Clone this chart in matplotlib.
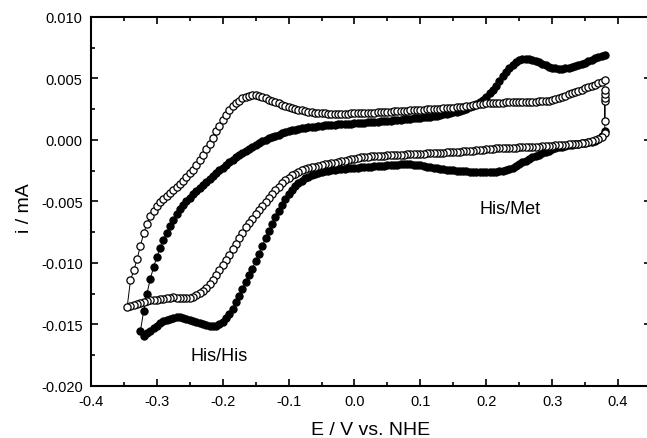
import matplotlib
matplotlib.use("Agg")
import matplotlib.pyplot as plt
from matplotlib.ticker import MultipleLocator, FormatStrFormatter

# Cyclic voltammograms, potential grid in mV (5 mV steps) and currents in uA
potential_mV = [
    -345, -340, -335, -330, -325, -320, -315, -310, -305, -300,
    -295, -290, -285, -280, -275, -270, -265, -260, -255, -250,
    -245, -240, -235, -230, -225, -220, -215, -210, -205, -200,
    -195, -190, -185, -180, -175, -170, -165, -160, -155, -150,
    -145, -140, -135, -130, -125, -120, -115, -110, -105, -100,
    -95, -90, -85, -80, -75, -70, -65, -60, -55, -50,
    -45, -40, -35, -30, -25, -20, -15, -10, -5, 0,
    5, 10, 15, 20, 25, 30, 35, 40, 45, 50,
    55, 60, 65, 70, 75, 80, 85, 90, 95, 100,
    105, 110, 115, 120, 125, 130, 135, 140, 145, 150,
    155, 160, 165, 170, 175, 180, 185, 190, 195, 200,
    205, 210, 215, 220, 225, 230, 235, 240, 245, 250,
    255, 260, 265, 270, 275, 280, 285, 290, 295, 300,
    305, 310, 315, 320, 325, 330, 335, 340, 345, 350,
    355, 360, 365, 370, 375, 380,
]

# open circles, lower branch (from -345 mV)
open_lower_uA = [
    -13.55, -13.50, -13.42, -13.36, -13.28, -13.20, -13.12, -13.05, -13.00, -12.97,
    -12.93, -12.90, -12.88, -12.85, -12.80, -12.82, -12.86, -12.88, -12.88, -12.85,
    -12.75, -12.62, -12.45, -12.25, -12.00, -11.70, -11.35, -10.95, -10.55, -10.15,
    -9.75, -9.35, -8.90, -8.45, -8.00, -7.55, -7.10, -6.75, -6.40, -6.05,
    -5.70, -5.35, -5.02, -4.70, -4.40, -4.10, -3.80, -3.52, -3.27, -3.05,
    -2.88, -2.74, -2.60, -2.48, -2.38, -2.30, -2.22, -2.16, -2.10, -2.04,
    -1.98, -1.93, -1.88, -1.84, -1.78, -1.72, -1.67, -1.62, -1.57, -1.52,
    -1.47, -1.42, -1.38, -1.35, -1.33, -1.31, -1.30, -1.29, -1.28, -1.26,
    -1.24, -1.22, -1.20, -1.19, -1.18, -1.16, -1.15, -1.13, -1.12, -1.11,
    -1.10, -1.08, -1.07, -1.06, -1.04, -1.03, -1.02, -1.00, -0.99, -0.98,
    -0.96, -0.95, -0.93, -0.92, -0.90, -0.87, -0.84, -0.81, -0.78, -0.75,
    -0.73, -0.70, -0.68, -0.67, -0.66, -0.65, -0.64, -0.63, -0.62, -0.61,
    -0.60, -0.59, -0.58, -0.57, -0.56, -0.54, -0.52, -0.50, -0.48, -0.46,
    -0.44, -0.42, -0.40, -0.38, -0.36, -0.34, -0.32, -0.30, -0.27, -0.23,
    -0.18, -0.12, -0.04, 0.08, 0.25, 0.60,
]

# open circles, upper branch (from -340 mV)
open_upper_uA = [
    -11.40, -10.60, -9.70, -8.60, -7.60, -6.80, -6.20, -5.75, -5.35,
    -5.05, -4.80, -4.55, -4.30, -4.10, -3.85, -3.60, -3.30, -3.00, -2.70,
    -2.40, -2.05, -1.65, -1.20, -0.75, -0.30, 0.20, 0.70, 1.15, 1.60,
    2.00, 2.40, 2.75, 3.00, 3.20, 3.40, 3.52, 3.60, 3.65, 3.62,
    3.55, 3.48, 3.38, 3.28, 3.18, 3.08, 2.98, 2.88, 2.78, 2.70,
    2.60, 2.52, 2.45, 2.40, 2.35, 2.30, 2.26, 2.22, 2.20, 2.18,
    2.16, 2.15, 2.14, 2.13, 2.13, 2.13, 2.14, 2.15, 2.16, 2.17,
    2.18, 2.19, 2.20, 2.21, 2.22, 2.23, 2.24, 2.26, 2.28, 2.30,
    2.31, 2.33, 2.34, 2.36, 2.37, 2.39, 2.40, 2.42, 2.43, 2.45,
    2.47, 2.48, 2.50, 2.52, 2.53, 2.55, 2.57, 2.58, 2.60, 2.62,
    2.65, 2.68, 2.72, 2.76, 2.80, 2.84, 2.88, 2.92, 2.95, 2.98,
    3.00, 3.01, 3.02, 3.03, 3.04, 3.05, 3.05, 3.06, 3.06, 3.07,
    3.08, 3.09, 3.10, 3.11, 3.12, 3.13, 3.15, 3.17, 3.20, 3.24,
    3.30, 3.40, 3.50, 3.60, 3.70, 3.80, 3.90, 4.00, 4.10, 4.20,
    4.30, 4.40, 4.50, 4.60, 4.72, 4.85,
]

# open circles recorded at the switching potential
open_switch_mV = [380, 380, 380, 380, 380]
open_switch_uA = [4.10, 3.75, 3.45, 3.15, 1.57]

# filled circles, lower branch (from -325 mV)
filled_lower_uA = [
    -15.55, -15.90, -15.70, -15.50, -15.30, -15.10,
    -14.90, -14.75, -14.62, -14.52, -14.45, -14.40, -14.40, -14.45, -14.52, -14.60,
    -14.70, -14.80, -14.90, -14.98, -15.05, -15.12, -15.15, -15.10, -14.98, -14.78,
    -14.50, -14.15, -13.72, -13.20, -12.65, -12.10, -11.55, -11.00, -10.45, -9.85,
    -9.25, -8.62, -8.00, -7.40, -6.85, -6.30, -5.75, -5.25, -4.80, -4.40,
    -4.05, -3.75, -3.50, -3.30, -3.12, -2.98, -2.86, -2.76, -2.67, -2.60,
    -2.54, -2.49, -2.45, -2.41, -2.38, -2.35, -2.32, -2.30, -2.28, -2.26,
    -2.24, -2.22, -2.20, -2.18, -2.16, -2.14, -2.12, -2.10, -2.08, -2.06,
    -2.04, -2.02, -2.00, -1.98, -1.97, -1.97, -1.98, -2.00, -2.03, -2.07,
    -2.12, -2.17, -2.22, -2.27, -2.31, -2.35, -2.38, -2.41, -2.44, -2.47,
    -2.50, -2.52, -2.54, -2.56, -2.57, -2.58, -2.59, -2.60, -2.60, -2.60,
    -2.60, -2.59, -2.57, -2.54, -2.50, -2.44, -2.35, -2.24, -2.10, -1.96,
    -1.82, -1.68, -1.55, -1.42, -1.30, -1.18, -1.07, -0.96, -0.86, -0.77,
    -0.68, -0.60, -0.53, -0.47, -0.42, -0.38, -0.34, -0.31, -0.28, -0.24,
    -0.20, -0.14, -0.05, 0.10, 0.35, 0.70,
]

# filled circles, upper branch (from -320 mV)
filled_upper_uA = [
    -13.90, -12.50, -11.30, -10.35, -9.50,
    -8.80, -8.15, -7.55, -7.00, -6.50, -6.05, -5.65, -5.30, -4.98, -4.68,
    -4.40, -4.15, -3.92, -3.68, -3.45, -3.20, -2.95, -2.70, -2.47, -2.25,
    -2.03, -1.82, -1.62, -1.42, -1.24, -1.06, -0.89, -0.73, -0.58, -0.44,
    -0.22, -0.10, 0.02, 0.13, 0.24, 0.34, 0.44, 0.54, 0.63, 0.72,
    0.79, 0.85, 0.90, 0.95, 0.99, 1.03, 1.06, 1.09, 1.12, 1.15,
    1.18, 1.20, 1.22, 1.24, 1.26, 1.28, 1.30, 1.32, 1.34, 1.36,
    1.38, 1.40, 1.42, 1.44, 1.46, 1.48, 1.50, 1.52, 1.54, 1.56,
    1.58, 1.61, 1.64, 1.66, 1.68, 1.70, 1.72, 1.75, 1.77, 1.80,
    1.83, 1.86, 1.90, 1.94, 1.98, 2.03, 2.08, 2.13, 2.18, 2.24,
    2.31, 2.38, 2.46, 2.55, 2.65, 2.76, 2.90, 3.06, 3.28, 3.53,
    3.80, 4.10, 4.43, 4.82, 5.22, 5.55, 5.82, 6.10, 6.35, 6.50,
    6.58, 6.60, 6.56, 6.50, 6.42, 6.32, 6.20, 6.08, 5.97, 5.88,
    5.82, 5.80, 5.81, 5.84, 5.89, 5.95, 6.02, 6.10, 6.20, 6.30,
    6.42, 6.54, 6.64, 6.74, 6.84, 6.94,
]

labels = ["His/His", "His/Met"]
label_pos = [(-0.206, -0.0175), (0.236, -0.0056)]

E = [v / 1000 for v in potential_mV]

# open trace: switch points, lower branch right->left, then upper branch left->right
open_x = [v / 1000 for v in open_switch_mV[::-1]] + E[::-1] + E[1:]
open_y = [v / 1000 for v in open_switch_uA[::-1]] + [v / 1000 for v in open_lower_uA[::-1]] \
    + [v / 1000 for v in open_upper_uA]

# filled trace: upper branch right->left, then lower branch left->right
filled_x = E[5:][::-1] + E[4:]
filled_y = [v / 1000 for v in filled_upper_uA[::-1]] + [v / 1000 for v in filled_lower_uA]

plt.rcParams['font.family'] = ['Liberation Sans', 'DejaVu Sans']
plt.rcParams['axes.unicode_minus'] = False

fig = plt.figure(figsize=(6.47, 4.39), dpi=100)
ax = fig.add_axes([0.1406, 0.1185, 0.8655, 0.8405])

ax.plot(filled_x, filled_y, '-o', color='black', lw=0.7, ms=5.2,
        mfc='black', mec='black', mew=0.8)
ax.plot(open_x, open_y, '-o', color='black', lw=0.7, ms=5.2,
        mfc='white', mec='black', mew=0.9)

for txt, (x, y) in zip(labels, label_pos):
    ax.text(x, y, txt, ha='center', va='center', fontsize=13)

ax.set_xlim(-0.4, 0.45)
ax.set_ylim(-0.020, 0.010)
ax.xaxis.set_major_locator(MultipleLocator(0.1))
ax.xaxis.set_minor_locator(MultipleLocator(0.05))
ax.yaxis.set_major_locator(MultipleLocator(0.005))
ax.yaxis.set_minor_locator(MultipleLocator(0.0025))
ax.xaxis.set_major_formatter(FormatStrFormatter('%.1f'))
ax.yaxis.set_major_formatter(FormatStrFormatter('%.3f'))

ax.tick_params(which='both', direction='in', top=True, right=True, width=1.2)
ax.tick_params(which='major', length=5, labelsize=10.5, pad=6)
ax.tick_params(which='minor', length=3)
for s in ax.spines.values():
    s.set_linewidth(1.5)
# the right frame edge falls just outside the picture
ax.spines['right'].set_visible(False)

ax.set_xlabel('E / V vs. NHE', fontsize=14)
ax.set_ylabel('i / mA', fontsize=14)
ax.xaxis.set_label_coords(0.5, -0.096)
ax.yaxis.set_label_coords(-0.103, 0.485)

fig.savefig('out.png', dpi=100)
